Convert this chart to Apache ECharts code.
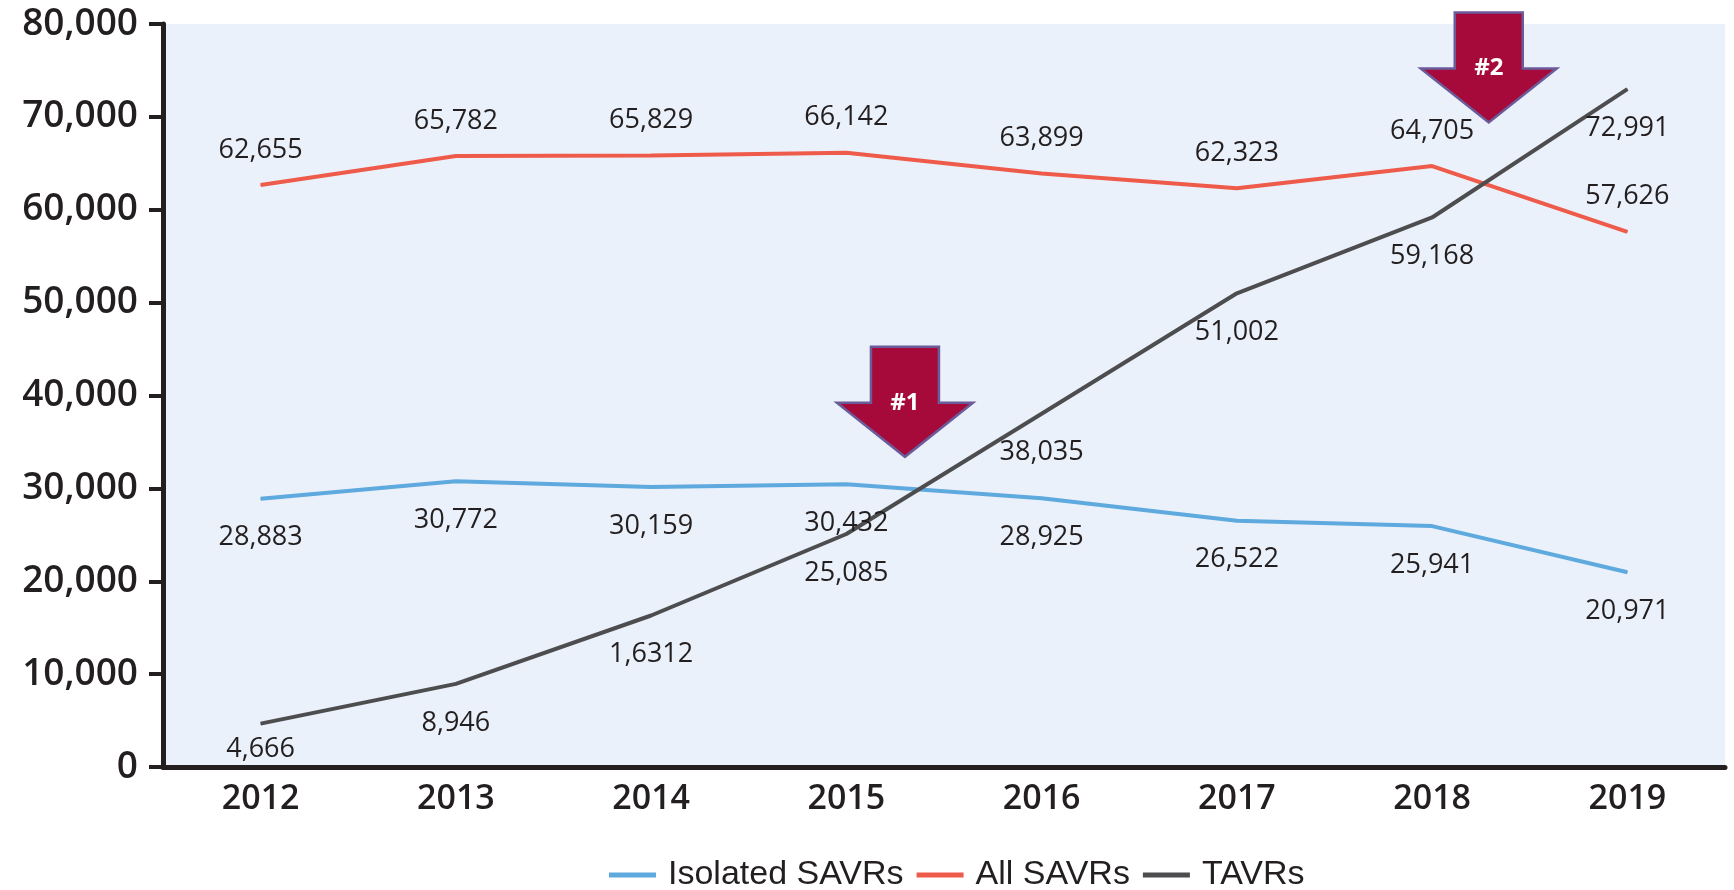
<!DOCTYPE html>
<html>
<head>
<meta charset="utf-8">
<script src="https://cdn.jsdelivr.net/npm/echarts@6/dist/echarts.min.js"></script>
<style>
  html, body { margin: 0; padding: 0; background: #fff; }
  #chart { width: 1734px; height: 890px; }
</style>
</head>
<body>
<div id="chart"></div>
<script>
const years = ['2012', '2013', '2014', '2015', '2016', '2017', '2018', '2019'];
const isolatedSavr = [28883, 30772, 30159, 30432, 28925, 26522, 25941, 20971];
const allSavr = [62655, 65782, 65829, 66142, 63899, 62323, 64705, 57626];
const tavr = [4666, 8946, 16312, 25085, 38035, 51002, 59168, 72991];
// label text as printed in the source (note the "1,6312")
const tavrLabels = ['4,666', '8,946', '1,6312', '25,085', '38,035', '51,002', '59,168', '72,991'];
// arrow callouts: tip position in data terms (category index, value)
const arrows = [
    { text: '#1', x: 3.3, y: 33400 },
    { text: '#2', x: 6.29, y: 69400 }
];

const dark = '#231f20';
const fmt = v => v.toLocaleString('en-US');

const chart = echarts.init(document.getElementById('chart'));

function lineSeries(name, data, color, pos, texts) {
    return {
        name: name,
        type: 'line',
        data: data.map((v, i) => {
            const item = { value: v };
            if (texts) item.label = { formatter: texts[i] };
            if (name === 'TAVRs' && i === 0) item.label.distance = 12;
            return item;
        }),
        symbol: 'circle',
        symbolSize: 1,
        showSymbol: true,
        lineStyle: { color: color, width: 4 },
        itemStyle: { color: color },
        label: {
            show: true,
            position: pos,
            distance: pos === 'top' ? 21 : 25,
            fontFamily: 'Open Sans',
            fontSize: 27,
            fontWeight: 500,
            color: dark,
            formatter: p => fmt(p.value)
        },
        emphasis: { disabled: true },
        animation: false
    };
}

chart.setOption({
    backgroundColor: '#fff',
    grid: {
        left: 163, right: 9, top: 24, bottom: 123,
        show: true,
        backgroundColor: '#eaf1fa',
        borderWidth: 0
    },
    legend: {
        left: 604,
        top: 853,
        itemWidth: 47,
        itemHeight: 5,
        itemGap: 13,
        icon: 'rect',
        textStyle: {
            fontFamily: 'Liberation Sans',
            fontSize: 34,
            color: dark,
            padding: [0, 0, 0, 7]
        }
    },
    xAxis: {
        type: 'category',
        data: years,
        boundaryGap: true,
        axisLine: { lineStyle: { color: dark, width: 5 } },
        axisTick: { show: false },
        axisLabel: { margin: 15, fontFamily: 'Open Sans', fontSize: 34, fontWeight: 600, color: dark }
    },
    yAxis: {
        type: 'value',
        min: 0,
        max: 80000,
        interval: 10000,
        axisLine: { show: true, lineStyle: { color: dark, width: 5 } },
        axisTick: { show: true, length: 14, lineStyle: { color: dark, width: 4 } },
        splitLine: { show: false },
        axisLabel: { margin: 25, fontFamily: 'Open Sans', fontSize: 37, fontWeight: 600, color: dark, formatter: fmt }
    },
    series: [
        lineSeries('Isolated SAVRs', isolatedSavr, '#5ea9dd', 'bottom'),
        lineSeries('All SAVRs', allSavr, '#ef5b4b', 'top'),
        lineSeries('TAVRs', tavr, '#4d4d4f', 'bottom', tavrLabels)
    ]
});

function toPixel(xi, yv) {
    const i0 = Math.floor(xi), i1 = Math.ceil(xi);
    const p0 = chart.convertToPixel({ gridIndex: 0 }, [i0, yv]);
    const p1 = chart.convertToPixel({ gridIndex: 0 }, [i1, yv]);
    const t = xi - i0;
    return [p0[0] + (p1[0] - p0[0]) * t, p0[1]];
}

const graphics = arrows.map(a => {
    const tip = toPixel(a.x, a.y);
    return {
        type: 'group',
        x: tip[0],
        y: tip[1],
        children: [
            {
                type: 'polygon',
                shape: {
                    points: [[-34, -110], [34, -110], [34, -54], [68, -54], [0, 0], [-68, -54], [-34, -54]]
                },
                style: { fill: '#a60a3a', stroke: '#6b5b9a', lineWidth: 2.5 }
            },
            {
                type: 'text',
                x: 0,
                y: -54,
                style: {
                    text: a.text,
                    fill: '#fff',
                    font: 'bold 24px "Open Sans"',
                    align: 'center',
                    verticalAlign: 'middle'
                }
            }
        ]
    };
});
chart.setOption({ graphic: graphics });
</script>
</body>
</html>
